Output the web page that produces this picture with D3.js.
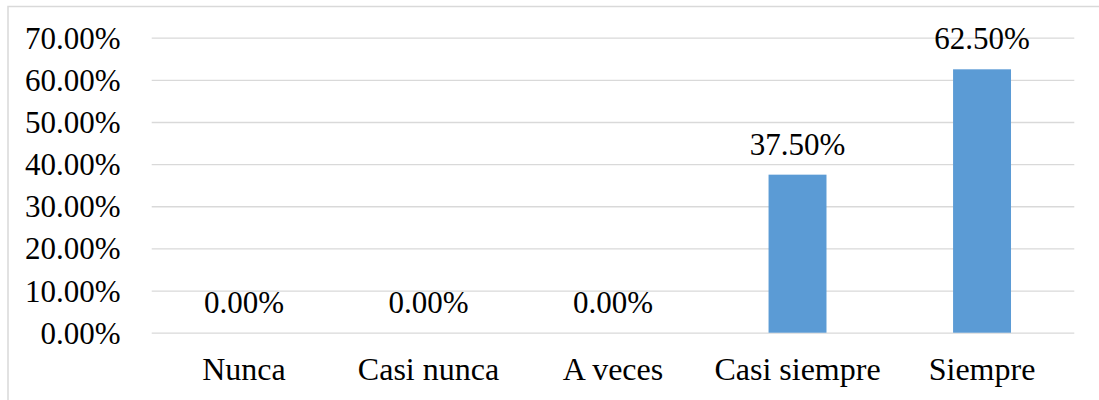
<!DOCTYPE html>
<html>
<head>
<meta charset="utf-8">
<script src="https://cdn.jsdelivr.net/npm/d3@7"></script>
<style>
  html, body { margin: 0; padding: 0; background: #fff; }
  svg { display: block; }
  text { font-family: "Liberation Serif", "Times New Roman", serif; fill: #000; }
</style>
</head>
<body>
<svg id="chart" width="1099" height="400"></svg>
<script>
// Response categories and their share of answers
const categories = ["Nunca", "Casi nunca", "A veces", "Casi siempre", "Siempre"];
const values = [0, 0, 0, 0.375, 0.625];
const yTicks = [0, 0.1, 0.2, 0.3, 0.4, 0.5, 0.6, 0.7];

const width = 1099, height = 400;
const plot = { left: 151.7, right: 1074.3, top: 37.7, bottom: 332.7 };
const numSize = 31;
const catSize = 32;

const svg = d3.select("#chart");

// Outer frame of the chart area
svg.append("rect")
  .attr("x", 8).attr("y", 6.5)
  .attr("width", width + 20).attr("height", height + 20)
  .attr("fill", "#fff")
  .attr("stroke", "#d9d9d9")
  .attr("stroke-width", 1.5);

const x = d3.scaleBand()
  .domain(categories)
  .range([plot.left, plot.right])
  .paddingInner(0.686)
  .paddingOuter(0.343);

const y = d3.scaleLinear()
  .domain([0, 0.7])
  .range([plot.bottom, plot.top]);

const pct = d3.format(".2%");

// Horizontal gridlines with percentage labels
const yAxis = d3.axisLeft(y)
  .tickValues(yTicks)
  .tickFormat(pct)
  .tickSize(-(plot.right - plot.left))
  .tickPadding(31);

const gy = svg.append("g")
  .attr("transform", `translate(${plot.left},0)`)
  .call(yAxis);
gy.select(".domain").remove();
gy.selectAll(".tick line")
  .attr("stroke", "#d9d9d9")
  .attr("stroke-width", 1.3);
gy.selectAll(".tick text")
  .attr("font-size", numSize)
  .attr("font-family", "Liberation Serif, Times New Roman, serif")
  .attr("fill", "#000")
  .attr("dy", "0.34em");

// Bars
svg.append("g").selectAll("rect")
  .data(values)
  .join("rect")
  .attr("x", (d, i) => x(categories[i]))
  .attr("y", d => y(d))
  .attr("width", x.bandwidth())
  .attr("height", d => y(0) - y(d))
  .attr("fill", "#5b9bd5");

// Value labels above each bar
svg.append("g").selectAll("text")
  .data(values)
  .join("text")
  .attr("x", (d, i) => x(categories[i]) + x.bandwidth() / 2)
  .attr("y", d => y(d) - 20)
  .attr("text-anchor", "middle")
  .attr("font-size", numSize)
  .text(d => pct(d));

// Category axis labels
const xAxis = d3.axisBottom(x).tickSize(0).tickPadding(0);
const gx = svg.append("g")
  .attr("transform", `translate(0,${plot.bottom})`)
  .call(xAxis);
gx.select(".domain").remove();
gx.selectAll(".tick text")
  .attr("font-size", catSize)
  .attr("font-family", "Liberation Serif, Times New Roman, serif")
  .attr("fill", "#000")
  .attr("dy", 0)
  .attr("y", 47.5);
</script>
</body>
</html>
